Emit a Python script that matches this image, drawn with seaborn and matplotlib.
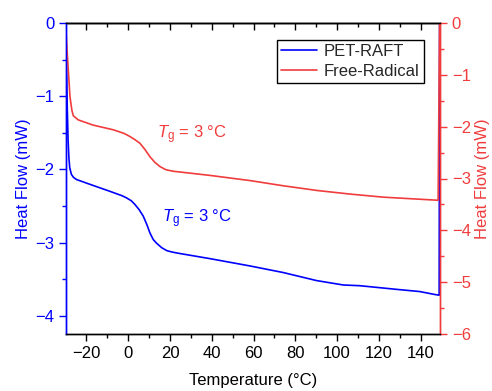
import numpy as np
import pandas as pd
import matplotlib
matplotlib.use("Agg")
import matplotlib.pyplot as plt
from matplotlib.ticker import MultipleLocator
import seaborn as sns

# PET-RAFT (left axis, mW)
raft_T = [-30, -29.6, -29.2, -28.8, -28.4, -28.0, -27.2, -26.2, -24.7, -16.8, -8.8, -3.0, -0.8, 1.5, 3.2, 5.2, 7.2,
          9.0, 10.4, 12.0, 13.6, 16.0, 18.4, 21.0, 24.7, 39.1, 58.3, 74.2, 90.2, 102.9, 110.9, 128.5, 139.6,
          146.8, 148.9, 149.1]
raft_HF = [0.0, -0.55, -1.15, -1.6, -1.85, -1.98, -2.07, -2.11, -2.14, -2.22, -2.30, -2.36, -2.39, -2.43, -2.48, -2.55, -2.64,
           -2.76, -2.87, -2.96, -3.01, -3.07, -3.11, -3.13, -3.15, -3.22, -3.32, -3.41, -3.52, -3.58, -3.59, -3.64, -3.67,
           -3.71, -3.72, 0.0]

# Free-Radical (right axis, mW)
fr_T = [-30, -29.4, -28.7, -27.9, -27.0, -26.3, -23.9, -16.8, -7.2, -2.0, 0.8, 3.2, 5.6, 8.0, 10.4, 12.8, 15.2, 18.0,
        21.5, 39.1, 58.3, 74.2, 90.2, 106.1, 122.1, 148.4, 149.1]
fr_HF = [0.0, -0.45, -0.91, -1.42, -1.68, -1.79, -1.87, -1.97, -2.06, -2.13, -2.19, -2.25, -2.32, -2.44, -2.58, -2.69, -2.77, -2.83,
         -2.86, -2.94, -3.04, -3.14, -3.23, -3.30, -3.36, -3.42, 0.0]

blue = "#0000FF"
red = "#F03C3C"

sns.set_theme(style="ticks")
plt.rcParams['font.family'] = ['Liberation Sans', 'DejaVu Sans']
plt.rcParams['mathtext.fontset'] = 'custom'
plt.rcParams['mathtext.rm'] = 'Liberation Sans'
plt.rcParams['mathtext.it'] = 'Liberation Sans:italic'

fig = plt.figure(figsize=(4.92, 3.91), dpi=100)
ax = fig.add_axes([66/492, 1-334/391, (440-66)/492, (334-23)/391])
ax2 = ax.twinx()

df1 = pd.DataFrame({"T": raft_T, "HF": raft_HF})
df2 = pd.DataFrame({"T": fr_T, "HF": fr_HF})
sns.lineplot(data=df1, x="T", y="HF", ax=ax, color=blue, lw=1.2, sort=False, label="PET-RAFT", legend=False)
sns.lineplot(data=df2, x="T", y="HF", ax=ax2, color=red, lw=1.2, sort=False, label="Free-Radical", legend=False)

ax.set_xlim(-29.8, 149.3)
ax.set_ylim(-4.25, 0)
ax2.set_ylim(-6, 0)

ax.xaxis.set_major_locator(MultipleLocator(20))
ax.xaxis.set_minor_locator(MultipleLocator(10))
ax.yaxis.set_major_locator(MultipleLocator(1))
ax.yaxis.set_minor_locator(MultipleLocator(0.5))
ax2.yaxis.set_major_locator(MultipleLocator(1))
ax2.yaxis.set_minor_locator(MultipleLocator(0.5))

fs = 12
ax.set_xlabel("Temperature (°C)", fontsize=fs, color="black", labelpad=9)
ax.set_ylabel("Heat Flow (mW)", fontsize=fs, color=blue, labelpad=3)
ax2.set_ylabel("Heat Flow (mW)", fontsize=fs, color=red, labelpad=3)

for a in (ax, ax2):
    for s in a.spines.values():
        s.set_linewidth(1.0)
        s.set_color("black")
ax.spines['left'].set_color(blue)
ax2.spines['left'].set_color(blue)
ax2.spines['right'].set_color(red)
ax.spines['right'].set_color(red)

ax.tick_params(axis='x', which='major', direction='out', length=5, width=1, colors='black', labelsize=fs)
ax.tick_params(axis='x', which='minor', direction='out', length=3, width=1, colors='black')
ax.tick_params(axis='y', which='major', direction='out', length=5, width=1, colors=blue, labelsize=fs)
ax.tick_params(axis='y', which='minor', direction='out', length=3, width=1, colors=blue)
ax2.tick_params(axis='y', which='major', direction='out', length=5, width=1, colors=red, labelsize=fs)
ax2.tick_params(axis='y', which='minor', direction='out', length=3, width=1, colors=red)

top = ax.secondary_xaxis('top')
top.xaxis.set_major_locator(MultipleLocator(20))
top.xaxis.set_minor_locator(MultipleLocator(10))
top.tick_params(axis='x', which='major', direction='in', length=5, width=1, labeltop=False, colors='black')
top.tick_params(axis='x', which='minor', direction='in', length=3, width=1, colors='black')
top.spines['top'].set_linewidth(1.0)

ax.text(13.7, -1.58, r"$\mathit{T}_\mathrm{g}$ = 3 °C", color=red, fontsize=fs, va='baseline')
ax.text(16.1, -2.73, r"$\mathit{T}_\mathrm{g}$ = 3 °C", color=blue, fontsize=fs, va='baseline')

handles = [ax.lines[0], ax2.lines[0]]
leg = ax2.legend(handles, ["PET-RAFT", "Free-Radical"], loc="upper right", bbox_to_anchor=(0.957, 0.945),
                 fontsize=fs, frameon=True, fancybox=False, edgecolor="black", framealpha=1,
                 handlelength=2.2, borderpad=0.25, labelspacing=0.28, handletextpad=0.4, borderaxespad=0)
leg.get_frame().set_linewidth(1.0)

fig.savefig("out.png", dpi=100)
